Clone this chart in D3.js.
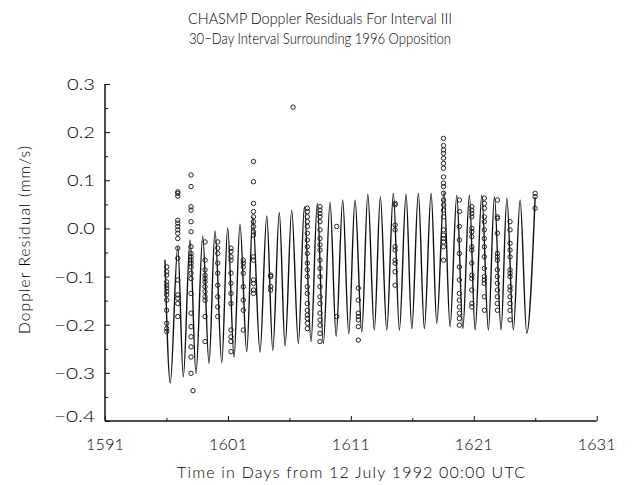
<!DOCTYPE html>
<html><head><meta charset="utf-8">
<script src="https://cdn.jsdelivr.net/npm/d3@7/dist/d3.min.js"></script>
<style>
body{margin:0;background:#fff;}
text{font-family:"Lato","DejaVu Sans",sans-serif;font-weight:300;fill:#000;}
</style></head>
<body><svg id="chart" width="632" height="485"></svg>
<script>
// Model curve: alternating extrema (day, residual mm/s)
const lineDays = [1595.88,
 1596.31,1596.92,1597.37,1597.92,1598.40,1598.95,1599.46,1599.95,1600.50,1600.98,
 1601.50,1601.98,1602.53,1603.02,1603.61,1604.16,1604.65,1605.18,1605.65,1606.19,
 1606.73,1607.22,1607.76,1608.27,1608.76,1609.31,1609.80,1610.34,1610.83,1611.34,
 1611.89,1612.38,1612.91,1613.40,1613.92,1614.46,1614.95,1615.49,1615.96,1616.49,
 1616.98,1617.53,1617.99,1618.58,1619.07,1619.62,1620.11,1620.64,1621.11,1621.65,
 1622.19,1622.68,1623.22,1623.69,1624.22,1624.77,1625.31,1625.99];
const lineValues = [-0.065,
 -0.321,-0.038,-0.308,-0.024,-0.301,-0.016,-0.280,-0.005,-0.279,0.001,
 -0.267,0.009,-0.256,0.024,-0.257,0.026,-0.253,0.033,-0.244,0.038,
 -0.239,0.045,-0.235,0.052,-0.239,0.054,-0.224,0.059,-0.219,0.059,
 -0.215,0.071,-0.211,0.066,-0.211,0.073,-0.211,0.071,-0.208,0.073,
 -0.208,0.073,-0.197,0.076,-0.204,0.069,-0.208,0.069,-0.211,0.069,
 -0.211,0.066,-0.211,0.063,-0.211,0.059,-0.218,0.065];

// Observed residuals, grouped by pass (day of each pass, values in that pass)
const obsDay = [1596.02,1596.92,1598.00,1598.16,1599.14,1600.17,1601.25,1602.25,1603.08,1604.48,
 1606.30,1607.46,1608.49,1609.85,1611.61,1614.60,1618.54,1619.83,1620.84,1621.86,1622.92,1623.95,1625.99];
const obsVal = [
 [-0.080,-0.090,-0.097,-0.111,-0.118,-0.124,-0.131,-0.138,-0.149,-0.170,-0.197,-0.208,-0.214],
 [0.076,0.073,0.067,0.017,0.011,0.004,-0.003,-0.010,-0.021,-0.041,-0.062,-0.107,-0.138,-0.145,-0.156,-0.183],
 [0.111,0.087,0.045,0.038,0.014,-0.007,-0.038,-0.052,-0.059,-0.066,-0.072,-0.080,-0.093,-0.104,-0.135,-0.176,-0.204,-0.225,-0.246,-0.267,-0.301],
 [-0.337],
 [-0.028,-0.066,-0.086,-0.097,-0.104,-0.111,-0.121,-0.131,-0.142,-0.149,-0.183,-0.235],
 [-0.028,-0.041,-0.052,-0.072,-0.093,-0.118,-0.142,-0.163,-0.183],
 [-0.041,-0.048,-0.059,-0.066,-0.093,-0.114,-0.135,-0.156,-0.211,-0.225,-0.235,-0.256],
 [-0.066,-0.072,-0.080,-0.093,-0.121,-0.149,-0.170,-0.211],
 [0.139,0.097,0.052,0.035,0.024,0.014,0.004,-0.007,-0.014,-0.059,-0.066,-0.107,-0.114,-0.128,-0.135],
 [-0.097,-0.100,-0.121,-0.128],
 [0.252],
 [0.042,0.035,0.024,0.014,0.004,-0.010,-0.024,-0.038,-0.052,-0.072,-0.086,-0.100,-0.121,-0.135,-0.156,-0.170,-0.180,-0.187,-0.197,-0.208],
 [0.045,0.038,0.031,0.024,0.014,-0.003,-0.021,-0.034,-0.045,-0.066,-0.083,-0.100,-0.121,-0.142,-0.156,-0.176,-0.190,-0.201,-0.218,-0.235],
 [0.004,-0.183],
 [-0.124,-0.149,-0.176,-0.183,-0.190,-0.204,-0.232],
 [0.052,0.049,0.007,-0.003,-0.038,-0.045,-0.066,-0.072,-0.090,-0.118],
 [0.187,0.172,0.163,0.156,0.146,0.135,0.125,0.107,0.094,0.087,0.073,0.059,0.049,0.038,0.024,-0.003,-0.014,-0.021,-0.028,-0.038,-0.066],
 [0.059,0.035,0.004,-0.024,-0.052,-0.080,-0.107,-0.135,-0.149,-0.163,-0.176,-0.187,-0.201],
 [0.045,0.038,0.031,0.024,0.000,-0.007,-0.017,-0.038,-0.045,-0.072,-0.097,-0.104,-0.128,-0.156,-0.163],
 [0.063,0.052,0.042,0.024,0.014,-0.003,-0.021,-0.038,-0.059,-0.083,-0.100,-0.107,-0.114,-0.142,-0.170],
 [0.059,0.024,0.021,-0.010,-0.052,-0.059,-0.066,-0.086,-0.100,-0.114,-0.128,-0.142,-0.156,-0.170],
 [0.014,-0.003,-0.031,-0.045,-0.059,-0.086,-0.093,-0.100,-0.121,-0.128,-0.142,-0.156,-0.170,-0.190],
 [0.073,0.066,0.042]
];

const xTicks = [1591,1601,1611,1621,1631];
const yTicks = [0.3,0.2,0.1,0.0,-0.1,-0.2,-0.3,-0.4];
const titleText = "CHASMP Doppler Residuals For Interval III";
const subtitleText = "30\u2212Day Interval Surrounding 1996 Opposition";
const xLabel = "Time in Days from 12 July 1992 00:00 UTC";
const yLabel = "Doppler Residual (mm/s)";

const W = 632, H = 485;
const m = {left:105, right:35.3, top:84, bottom:64};
const svg = d3.select("#chart");
const x = d3.scaleLinear().domain([1591,1631]).range([m.left, W - m.right]);
const y = d3.scaleLinear().domain([-0.4,0.3]).range([H - m.bottom, m.top]);

// line
const pts = lineDays.map((d,i)=>[d,lineValues[i]]);
svg.append("path").datum(pts)
  .attr("fill","none").attr("stroke","#111").attr("stroke-width",1.4)
  .attr("d", d3.line().x(d=>x(d[0])).y(d=>y(d[1])).curve(d3.curveMonotoneX));

// observations
const obs = [];
obsDay.forEach((d,i)=>obsVal[i].forEach(v=>obs.push([d,v])));
svg.append("g").selectAll("circle").data(obs).join("circle")
  .attr("cx",d=>x(d[0])).attr("cy",d=>y(d[1])).attr("r",2.2)
  .attr("fill","none").attr("stroke","#222").attr("stroke-width",1);

// axes
const fmtY = v => (v<0?"\u2212":"") + Math.abs(v).toFixed(1);
const yAxis = svg.append("g").attr("transform",`translate(${m.left},0)`)
  .call(d3.axisRight(y).tickValues(d3.range(-0.4,0.3001,0.05)).tickSize(4).tickFormat(""));
yAxis.selectAll(".tick line").attr("x2",(d)=>Math.abs(Math.round(d*10)-d*10)<1e-6?5:3).attr("stroke","#111");
yAxis.select(".domain").attr("d",`M0,${y(0.3)}V${y(-0.4)}`).attr("stroke","#111").attr("stroke-width",1.5);
svg.append("g").selectAll("text").data(yTicks).join("text")
  .attr("x",m.left-10).attr("y",d=>y(d)+(d<-0.35?1:6)).attr("text-anchor","end")
  .attr("textLength",d=>{const s=fmtY(d);return (s.startsWith("\u2212")?13:0)+22+6;})
  .attr("lengthAdjust","spacingAndGlyphs")
  .style("font-size","15px").text(fmtY);

const xAxis = svg.append("g").attr("transform",`translate(0,${H-m.bottom})`)
  .call(d3.axisTop(x).tickValues(d3.range(1591,1632,5)).tickSize(4).tickFormat(""));
xAxis.selectAll(".tick line").attr("y2",d=>((d-1591)%10===0)?-5:-3).attr("stroke","#111");
xAxis.select(".domain").attr("d",`M${x(1591)},0H${x(1631)}`).attr("stroke","#111").attr("stroke-width",1.5);
svg.append("g").selectAll("text").data(xTicks).join("text")
  .attr("x",d=>x(d)).attr("y",H-m.bottom+29).attr("text-anchor","middle")
  .attr("textLength",38).attr("lengthAdjust","spacing")
  .style("font-size","16px").text(d=>d);

// titles
svg.append("text").attr("x",320).attr("y",24).attr("text-anchor","middle").style("font-size","16.5px")
  .attr("textLength",264).attr("lengthAdjust","spacingAndGlyphs").text(titleText);
svg.append("text").attr("x",320).attr("y",44).attr("text-anchor","middle").style("font-size","15px")
  .attr("textLength",262).attr("lengthAdjust","spacingAndGlyphs").text(subtitleText);
svg.append("text").attr("x",351).attr("y",478).attr("text-anchor","middle").style("font-size","16px")
  .attr("textLength",348).attr("lengthAdjust","spacing").text(xLabel);
svg.append("text").attr("transform",`translate(30,240) rotate(-90)`).attr("text-anchor","middle").style("font-size","15.5px")
  .attr("textLength",188).attr("lengthAdjust","spacing").text(yLabel);
</script></body></html>
